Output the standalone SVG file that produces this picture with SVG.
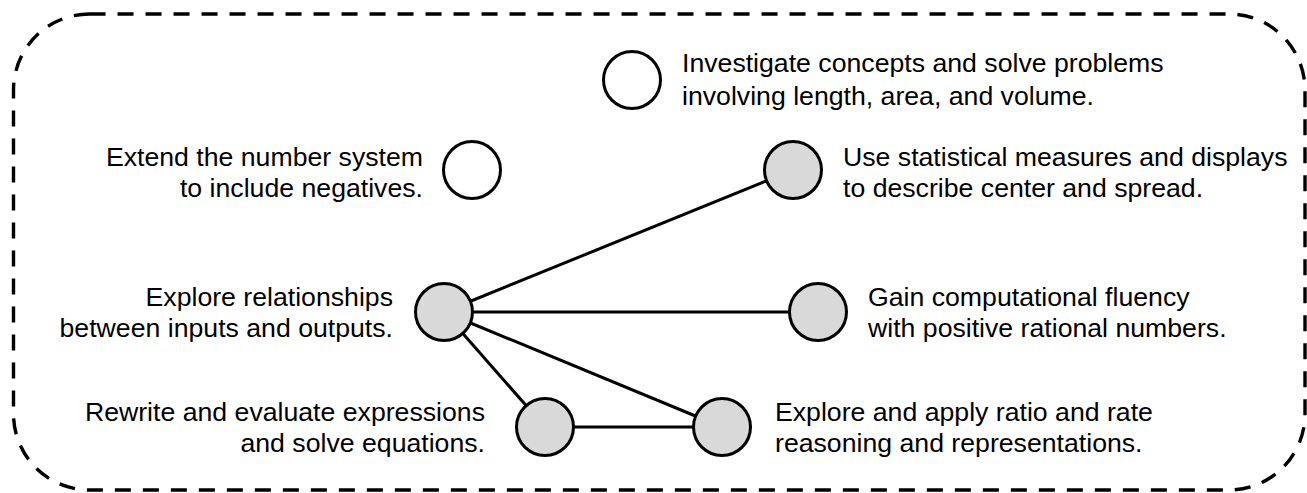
<svg xmlns="http://www.w3.org/2000/svg" width="1307" height="493" viewBox="0 0 1307 493">
<style>
.lbl{font-family:"Liberation Sans",Arial,sans-serif;font-size:26.67px;fill:#000}
.r{text-anchor:end}
.node{stroke:#000;stroke-width:3}
.open{fill:#fff}
.filled{fill:#d9d9d9}
.edge{stroke:#000;stroke-width:3;fill:none}
</style>
<rect x="13.5" y="14" width="1291.5" height="476" rx="76" ry="76" fill="none" stroke="#000" stroke-width="3.4" stroke-dasharray="16 12"/>
<g id="connectors">
<line class="edge" x1="444" y1="312" x2="793" y2="170"/>
<line class="edge" x1="444" y1="312" x2="818" y2="312"/>
<line class="edge" x1="444" y1="312" x2="545" y2="427"/>
<line class="edge" x1="444" y1="312" x2="722" y2="427"/>
<line class="edge" x1="545" y1="427" x2="722" y2="427"/>
</g>
<g id="n-geometry">
<circle class="node open" cx="632" cy="80" r="28.5"/>
<text class="lbl" x="682" y="72">Investigate concepts and solve problems</text>
<text class="lbl" x="682" y="105">involving length, area, and volume.</text>
</g>
<g id="n-negatives">
<circle class="node open" cx="472" cy="170" r="28.5"/>
<text class="lbl r" x="423" y="166">Extend the number system</text>
<text class="lbl r" x="423" y="197">to include negatives.</text>
</g>
<g id="n-statistics">
<circle class="node filled" cx="793" cy="170" r="28.5"/>
<text class="lbl" x="843" y="166">Use statistical measures and displays</text>
<text class="lbl" x="843" y="197">to describe center and spread.</text>
</g>
<g id="n-relationships">
<circle class="node filled" cx="444" cy="312" r="28.5"/>
<text class="lbl r" x="393" y="306">Explore relationships</text>
<text class="lbl r" x="393" y="337">between inputs and outputs.</text>
</g>
<g id="n-fluency">
<circle class="node filled" cx="818" cy="312" r="28.5"/>
<text class="lbl" x="868" y="306">Gain computational fluency</text>
<text class="lbl" x="868" y="337">with positive rational numbers.</text>
</g>
<g id="n-expressions">
<circle class="node filled" cx="545" cy="427" r="28.5"/>
<text class="lbl r" x="485" y="421">Rewrite and evaluate expressions</text>
<text class="lbl r" x="485" y="452">and solve equations.</text>
</g>
<g id="n-ratio">
<circle class="node filled" cx="722" cy="427" r="28.5"/>
<text class="lbl" x="775" y="421">Explore and apply ratio and rate</text>
<text class="lbl" x="775" y="452">reasoning and representations.</text>
</g>
</svg>
